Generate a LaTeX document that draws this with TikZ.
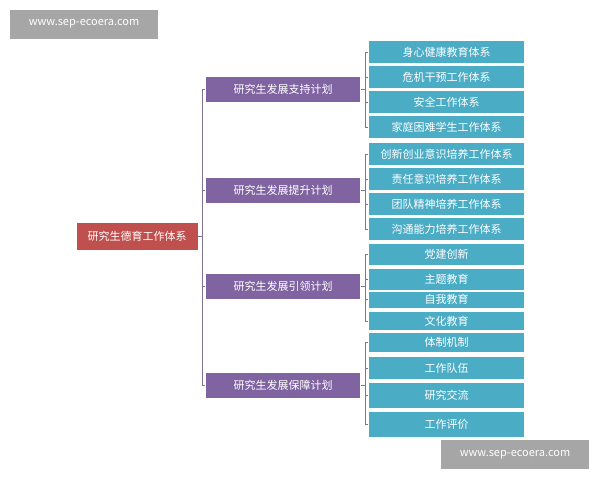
\documentclass[tikz,border=0pt]{standalone}
\usepackage{fontspec}
\setmainfont{Noto Sans CJK SC}
\definecolor{rootred}{HTML}{C0504D}
\definecolor{planpurple}{HTML}{8064A2}
\definecolor{itemblue}{HTML}{4BACC6}
\definecolor{linegray}{HTML}{7F7391}
\begin{document}
\begin{tikzpicture}[x=1pt,y=-1pt]
    \tikzset{box/.style={draw=white, line width=0.6pt, text=white, inner sep=0pt, font=\fontsize{11}{12}\selectfont},
      rootbox/.style={box, fill=rootred, minimum width=122, minimum height=28},
      planbox/.style={box, fill=planpurple, minimum width=155, minimum height=26},
      itembox/.style={box, fill=itemblue, minimum width=156},
      wm/.style={fill=gray!70, text=white, minimum width=148, minimum height=29, inner sep=0pt, font=\fontsize{11}{12}\selectfont},
      link/.style={draw=linegray, line width=0.8pt}}
    \useasboundingbox (0,0) rectangle (600,480);
    \node [rootbox] (root) at (137,236.5) {研究生德育工作体系};
    \node [planbox] (p1) at (283,89) {研究生发展支持计划};
    \node [planbox] (p2) at (283,190) {研究生发展提升计划};
    \node [planbox] (p3) at (283,286.5) {研究生发展引领计划};
    \node [planbox] (p4) at (283,385) {研究生发展保障计划};
    % items: name/center y/height/text
    \foreach \n/\y/\h/\t in {a1/52/23/身心健康教育体系, a2/77/23/危机干预工作体系, a3/102/23/安全工作体系, a4/127/23/家庭困难学生工作体系,
      b1/154/23/创新创业意识培养工作体系, b2/179/23/责任意识培养工作体系, b3/204/23/团队精神培养工作体系, b4/229/23/沟通能力培养工作体系,
      c1/254.5/22/党建创新, c2/279.5/22/主题教育, c3/299.5/17/自我教育, c4/321/19/文化教育,
      d1/342.5/20/体制机制, d2/368/23/工作队伍, d3/395.5/26/研究交流, d4/424.5/26/工作评价}
      \node [itembox, minimum height=\h] (\n) at (446.5,\y) {\t};
    % root bracket
    \draw [link] (root.east) -- (202,236.5);
    \draw [link] (202,89) -- (202,385);
    \foreach \p in {p1,p2,p3,p4}
      \draw [link] (202,0 |- \p.west) -- (\p.west);
    % item brackets
    \foreach \p/\f/\l in {p1/a1/a4, p2/b1/b4, p3/c1/c4, p4/d1/d4} {
      \draw [link] (\p.east) -- (365,0 |- \p.east);
      \draw [link] (368,0 |- \f.west) -- (365,0 |- \f.west) -- (365,0 |- \l.west) -- (368,0 |- \l.west);
    }
    \foreach \n in {a2,a3,b2,b3,c2,c3,d2,d3}
      \draw [link] (365,0 |- \n.west) -- (368,0 |- \n.west);
    % watermarks
    \node [wm] (wm1) at (84,24) {www.sep-ecoera.com};
    \node [wm] (wm2) at (515,454.5) {www.sep-ecoera.com};
\end{tikzpicture}
\end{document}
